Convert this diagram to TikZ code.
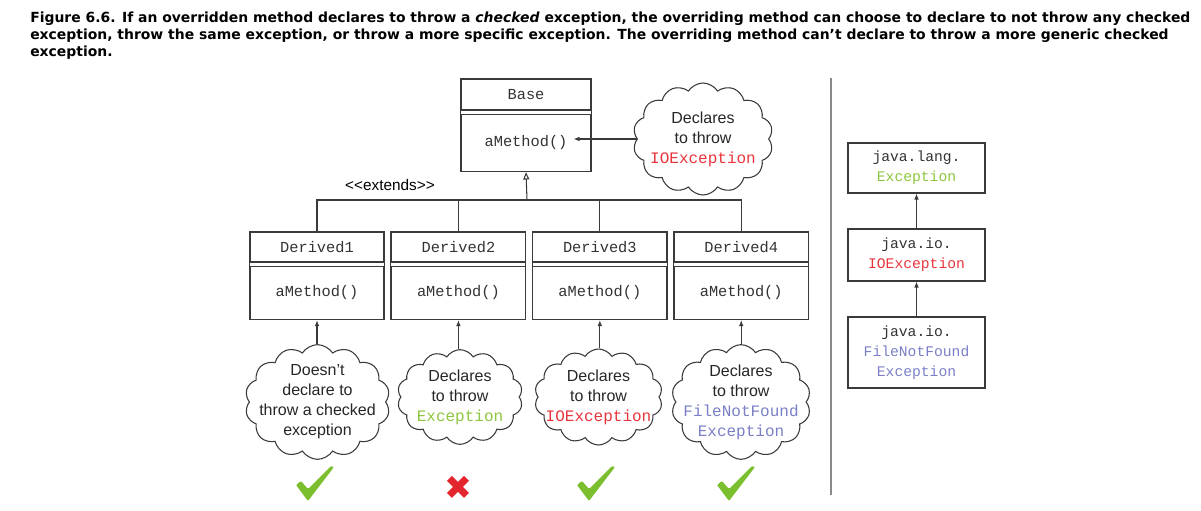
\documentclass[tikz,border=0pt]{standalone}
\usepackage{fontspec}
\usepackage{xcolor}
\usepackage{tikz}
\usetikzlibrary{arrows.meta,positioning,shapes.symbols,fit}
\setmainfont{Liberation Sans}
\setmonofont{Liberation Mono}
\newfontfamily\capfont{DejaVu Sans}
\newfontfamily\markfont{DejaVu Sans}
\definecolor{UmlLine}{HTML}{3A3A3A}
\definecolor{UmlText}{HTML}{333333}
\definecolor{ExcRed}{HTML}{E8343C}
\definecolor{ExcGreen}{HTML}{8DC63F}
\definecolor{ExcBlue}{HTML}{7A7FC6}
\definecolor{MarkGreen}{HTML}{7BBF2E}
\definecolor{MarkRed}{HTML}{E3262D}
\definecolor{SepGray}{HTML}{8A8A8A}
\tikzset{
  caption/.style={anchor=north west,align=left,inner sep=0pt,font=\capfont\bfseries\fontsize{10.45}{12.75}\selectfont},
  headbox/.style={draw=UmlLine,line width=0.8pt,inner sep=0pt,text=UmlText,font=\ttfamily\fontsize{11.5}{14}\selectfont},
  methbox/.style={draw=UmlLine,line width=0.8pt,inner sep=0pt,text=UmlText,font=\ttfamily\fontsize{11.5}{14}\selectfont},
  frame/.style={draw=UmlLine,line width=0.8pt,inner sep=0pt},
  excbox/.style={draw=UmlLine,line width=0.8pt,align=center,inner sep=0pt,minimum width=102.75pt,text=UmlText,font=\ttfamily\fontsize{11}{15}\selectfont},
  thought/.style={cloud,cloud puffs=14,cloud puff arc=115,cloud ignores aspect,draw=UmlLine,line width=0.8pt,inner sep=0pt},
  thoughttext/.style={align=center,inner sep=0pt,text=black!85,font=\fontsize{12}{15}\selectfont},
  stereo/.style={inner sep=0pt,font=\fontsize{11.5}{13}\selectfont},
  uses/.style={-{Latex[length=4.5pt,width=3.5pt]},line width=0.8pt,draw=UmlLine},
  inherit/.style={-{Triangle[open,length=5.5pt,width=4.5pt]},line width=0.8pt,draw=UmlLine},
  linkline/.style={line width=0.8pt,draw=UmlLine},
  sepline/.style={line width=1.5pt,draw=SepGray},
  okmark/.pic={\fill[MarkGreen,rounded corners=0.8pt] (-21,1) -- (-16,-3) -- (-9,5) -- (14,-18) -- (17,-17) -- (-6,13) -- (-9,17) -- cycle;},
  nomark/.style={inner sep=0pt,text=MarkRed,font=\markfont\fontsize{25}{25}\selectfont}
}
\newcommand\cmono[1]{{\ttfamily #1}}

\begin{document}
\begin{tikzpicture}[x=0.75pt,y=-0.75pt]
\useasboundingbox (0,0) rectangle (1201,510);
\node[caption] (cap) at (30,12) {Figure 6.6. If an overridden method declares to throw a \textit{checked} exception, the overriding method can choose to declare to not throw any checked\\exception, throw the same exception, or throw a more specific exception. The overriding method can’t declare to throw a more generic checked\\exception.};

% base class
\node[headbox,minimum width=97.5pt,minimum height=23.25pt] (bh) at (526,94.5) {Base};
\node[methbox,minimum width=97.5pt,minimum height=42.75pt,below=2.25pt of bh] (bm) {aMethod()};
\node[frame,fit=(bh)(bm)] (bf) {};
\node[thought,minimum width=105pt,minimum height=84pt] (bcloud) at (703,139) {};
\node[thoughttext] (bcloudt) at (bcloud) {Declares\\to throw\\\cmono{\textcolor{ExcRed}{IOException}}};
\draw[uses,shorten >=-13.5pt] (bcloud.west) -- (bcloud.west -| bm.east);

% derived classes
\node[headbox,minimum width=100.5pt,minimum height=22.5pt] (d1h) at (317,247) {Derived1};
\node[headbox,minimum width=100.5pt,minimum height=22.5pt,right=4.75pt of d1h] (d2h) {Derived2};
\node[headbox,minimum width=100.5pt,minimum height=22.5pt,right=4.75pt of d2h] (d3h) {Derived3};
\node[headbox,minimum width=100.5pt,minimum height=22.5pt,right=4.75pt of d3h] (d4h) {Derived4};
\node[methbox,minimum width=100.5pt,minimum height=39.75pt,below=2.25pt of d1h] (d1m) {aMethod()};
\node[methbox,minimum width=100.5pt,minimum height=39.75pt,below=2.25pt of d2h] (d2m) {aMethod()};
\node[methbox,minimum width=100.5pt,minimum height=39.75pt,below=2.25pt of d3h] (d3m) {aMethod()};
\node[methbox,minimum width=100.5pt,minimum height=39.75pt,below=2.25pt of d4h] (d4m) {aMethod()};
\node[frame,fit=(d1h)(d1m)] (d1f) {};
\node[frame,fit=(d2h)(d2m)] (d2f) {};
\node[frame,fit=(d3h)(d3m)] (d3f) {};
\node[frame,fit=(d4h)(d4m)] (d4f) {};

% inheritance tree
\coordinate (hub) at (527,200);
\draw[linkline] (d1f.north) |- (hub) -| (d4f.north);
\draw[linkline] (d2f.north) -- (d2f.north |- hub);
\draw[linkline] (d3f.north) -- (d3f.north |- hub);
\draw[inherit] (hub) -- (bf.south);
\node[stereo] (ext) at (390,185) {<\kern0pt<extends>\kern0pt>};

% what each override declares
\node[thought,minimum width=108.75pt,minimum height=86pt] (c1) at (317.5,402) {};
\node[thought,minimum width=94pt,minimum height=71pt] (c2) at (460,397) {};
\node[thought,minimum width=96pt,minimum height=72pt] (c3) at (598.5,397) {};
\node[thought,minimum width=104.5pt,minimum height=86pt] (c4) at (741,402) {};
\node[thoughttext] (c1t) at (c1) {Doesn’t\\declare to\\throw a checked\\exception};
\node[thoughttext] (c2t) at (c2) {Declares\\to throw\\\cmono{\textcolor{ExcGreen}{Exception}}};
\node[thoughttext] (c3t) at (c3) {Declares\\to throw\\\cmono{\textcolor{ExcRed}{IOException}}};
\node[thoughttext] (c4t) at (c4) {Declares\\to throw\\\cmono{\textcolor{ExcBlue}{FileNotFound}}\\\cmono{\textcolor{ExcBlue}{Exception}}};
\draw[uses] (c1.north -| d1f.south) -- (d1f.south);
\draw[uses] (c2.north -| d2f.south) -- (d2f.south);
\draw[uses] (c3.north -| d3f.south) -- (d3f.south);
\draw[uses] (c4.north -| d4f.south) -- (d4f.south);

\pic (ok1) at (317,484) {okmark};
\node[nomark] (no2) at (458,488) {✖};
\pic (ok3) at (598,484) {okmark};
\pic (ok4) at (738,484) {okmark};

% exception hierarchy
\coordinate (septop) at (831,78);
\coordinate (sepbot) at (831,495);
\draw[sepline] (septop) -- (sepbot);
\node[excbox,minimum height=37.5pt] (exa) at (916.5,168) {java.lang.\\\textcolor{ExcGreen}{Exception}};
\node[excbox,minimum height=39pt] (exb) at (916.5,255) {java.io.\\\textcolor{ExcRed}{IOException}};
\node[excbox,minimum height=53.25pt] (exc) at (916.5,352.5) {java.io.\\\textcolor{ExcBlue}{FileNotFound}\\\textcolor{ExcBlue}{Exception}};
\draw[uses] (exb.north) -- (exa.south);
\draw[uses] (exc.north) -- (exb.south);
\end{tikzpicture}
\end{document}
